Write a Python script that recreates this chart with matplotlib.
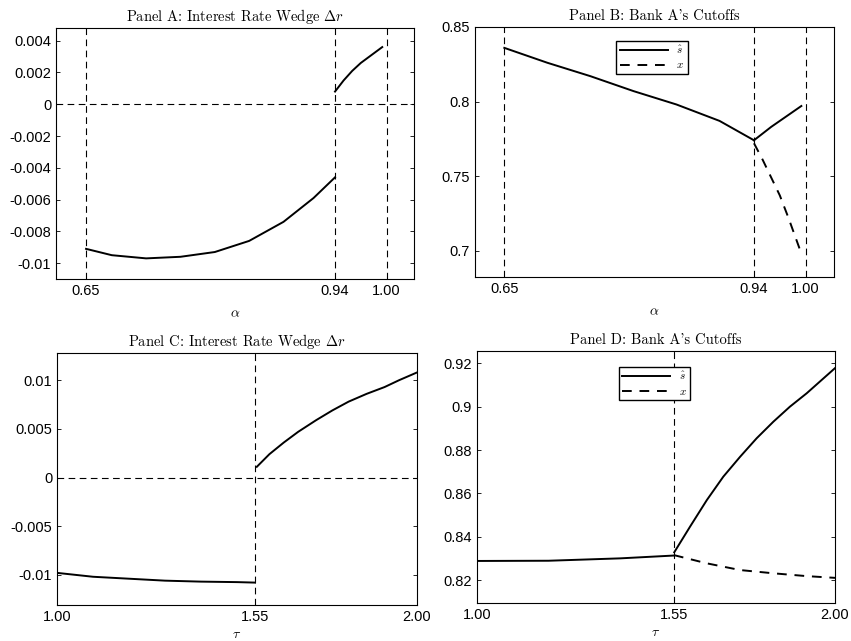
import numpy as np
import matplotlib
matplotlib.use('Agg')
import matplotlib.pyplot as plt

plt.rcParams['font.family'] = ['Liberation Sans', 'DejaVu Sans']
plt.rcParams['mathtext.fontset'] = 'cm'

# Panel A: interest rate wedge vs alpha
a_x1 = [0.65, 0.68, 0.72, 0.76, 0.80, 0.84, 0.88, 0.915, 0.94]
a_y1 = [-0.0091, -0.0095, -0.0097, -0.0096, -0.0093, -0.0086, -0.0074, -0.0059, -0.0046]
a_x2 = [0.94, 0.95, 0.96, 0.97, 0.98, 0.99, 0.995]
a_y2 = [0.0008, 0.0015, 0.0021, 0.0026, 0.0030, 0.0034, 0.0036]

# Panel B: cutoffs vs alpha
b_x1 = [0.65, 0.70, 0.75, 0.80, 0.85, 0.90, 0.94]
b_s1 = [0.836, 0.826, 0.817, 0.807, 0.798, 0.787, 0.774]
b_x2 = [0.94, 0.96, 0.98, 0.995]
b_s2 = [0.774, 0.783, 0.791, 0.797]
b_xx = [0.94, 0.95, 0.96, 0.97, 0.98, 0.99, 0.995]
b_xv = [0.772, 0.761, 0.749, 0.737, 0.722, 0.706, 0.698]

# Panel C: interest rate wedge vs tau
c_x1 = [1.0, 1.1, 1.2, 1.3, 1.4, 1.5, 1.55]
c_y1 = [-0.0098, -0.0102, -0.0104, -0.0106, -0.0107, -0.01075, -0.0108]
c_x2 = [1.555, 1.59, 1.63, 1.67, 1.72, 1.765, 1.81, 1.86, 1.91, 1.95, 2.0]
c_y2 = [0.0011, 0.0024, 0.0036, 0.0047, 0.0059, 0.0069, 0.0078, 0.0086, 0.0093, 0.0100, 0.0108]

# Panel D: cutoffs vs tau
d_x1 = [1.0, 1.2, 1.4, 1.55]
d_s1 = [0.8288, 0.8289, 0.8300, 0.8313]
d_x2 = [1.551, 1.595, 1.642, 1.688, 1.735, 1.781, 1.828, 1.874, 1.921, 2.0]
d_s2 = [0.8328, 0.8446, 0.8569, 0.8677, 0.8769, 0.8854, 0.8931, 0.9000, 0.9062, 0.9178]
d_xx = [1.55, 1.642, 1.735, 1.828, 1.921, 2.0]
d_xv = [0.8315, 0.8277, 0.8246, 0.8231, 0.8218, 0.8210]

fig = plt.figure(figsize=(8.51, 6.41), dpi=100)
axA = fig.add_axes([0.0658, 0.5647, 0.4207, 0.3916])
axB = fig.add_axes([0.5582, 0.5679, 0.4219, 0.3900])
axC = fig.add_axes([0.0670, 0.0562, 0.4230, 0.3931])
axD = fig.add_axes([0.5605, 0.0593, 0.4207, 0.3931])

title_kw = dict(fontsize=10.5, family='cmr10', pad=5)
lw = 1.4
ref = dict(color='black', lw=0.8, ls=(0, (6, 4)))

def style(ax):
    ax.tick_params(direction='in', top=True, right=True, labelsize=10.5, length=3, width=0.6)
    for s in ax.spines.values():
        s.set_linewidth(0.8)

# A
axA.plot(a_x1, a_y1, 'k-', lw=lw)
axA.plot(a_x2, a_y2, 'k-', lw=lw)
for v in [0.65, 0.94, 1.00]:
    axA.axvline(v, **ref)
axA.axhline(0, **ref)
axA.set_xlim(0.615, 1.032)
axA.set_ylim(-0.011, 0.0048)
axA.set_xticks([0.65, 0.94, 1.00], ['0.65', '0.94', '1.00'])
axA.set_yticks([0.004, 0.002, 0, -0.002, -0.004, -0.006, -0.008, -0.01],
               ['0.004', '0.002', '0', '-0.002', '-0.004', '-0.006', '-0.008', '-0.01'])
axA.set_title(r'Panel A: Interest Rate Wedge $\Delta r$', **title_kw)
axA.set_xlabel(r'$\alpha$', fontsize=10, labelpad=6)
style(axA)

# B
axB.plot(b_x1, b_s1, 'k-', lw=lw, label=r'$\hat{s}$')
axB.plot(b_x2, b_s2, 'k-', lw=lw)
axB.plot(b_xx, b_xv, 'k', lw=lw, ls=(0, (5, 4)), label=r'$x$')
for v in [0.65, 0.94, 1.00]:
    axB.axvline(v, **ref)
axB.set_xlim(0.616, 1.033)
axB.set_ylim(0.6823, 0.85)
axB.set_xticks([0.65, 0.94, 1.00], ['0.65', '0.94', '1.00'])
axB.set_yticks([0.7, 0.75, 0.8, 0.85], ['0.7', '0.75', '0.8', '0.85'])
axB.set_title("Panel B: Bank A's Cutoffs", **title_kw)
axB.set_xlabel(r'$\alpha$', fontsize=10, labelpad=6)
axB.legend(loc='upper center', bbox_to_anchor=(0.493, 0.968), fontsize=8, handlelength=4.3,
           fancybox=False, edgecolor='black', framealpha=1, borderpad=0.3, labelspacing=0.4)
style(axB)

# C
axC.plot(c_x1, c_y1, 'k-', lw=lw)
axC.plot(c_x2, c_y2, 'k-', lw=lw)
axC.axvline(1.55, **ref)
axC.axhline(0, **ref)
axC.set_xlim(1.0, 2.0)
axC.set_ylim(-0.0131, 0.0128)
axC.set_xticks([1.0, 1.55, 2.0], ['1.00', '1.55', '2.00'])
axC.set_yticks([0.01, 0.005, 0, -0.005, -0.01], ['0.01', '0.005', '0', '-0.005', '-0.01'])
axC.set_title(r'Panel C: Interest Rate Wedge $\Delta r$', **title_kw)
axC.set_xlabel(r'$\tau$', fontsize=10, labelpad=2)
style(axC)

# D
axD.plot(d_x1, d_s1, 'k-', lw=lw, label=r'$\hat{s}$')
axD.plot(d_x2, d_s2, 'k-', lw=lw)
axD.plot(d_xx, d_xv, 'k', lw=lw, ls=(0, (5, 4)), label=r'$x$')
axD.axvline(1.55, **ref)
axD.set_xlim(1.0, 2.0)
axD.set_ylim(0.8094, 0.9257)
axD.set_xticks([1.0, 1.55, 2.0], ['1.00', '1.55', '2.00'])
axD.set_yticks([0.82, 0.84, 0.86, 0.88, 0.9, 0.92], ['0.82', '0.84', '0.86', '0.88', '0.9', '0.92'])
axD.set_title("Panel D: Bank A's Cutoffs", **title_kw)
axD.set_xlabel(r'$\tau$', fontsize=10, labelpad=2)
axD.legend(loc='upper center', bbox_to_anchor=(0.496, 0.960), fontsize=8, handlelength=4.3,
           fancybox=False, edgecolor='black', framealpha=1, borderpad=0.3, labelspacing=0.4)
style(axD)

fig.savefig('out.png', dpi=100)
